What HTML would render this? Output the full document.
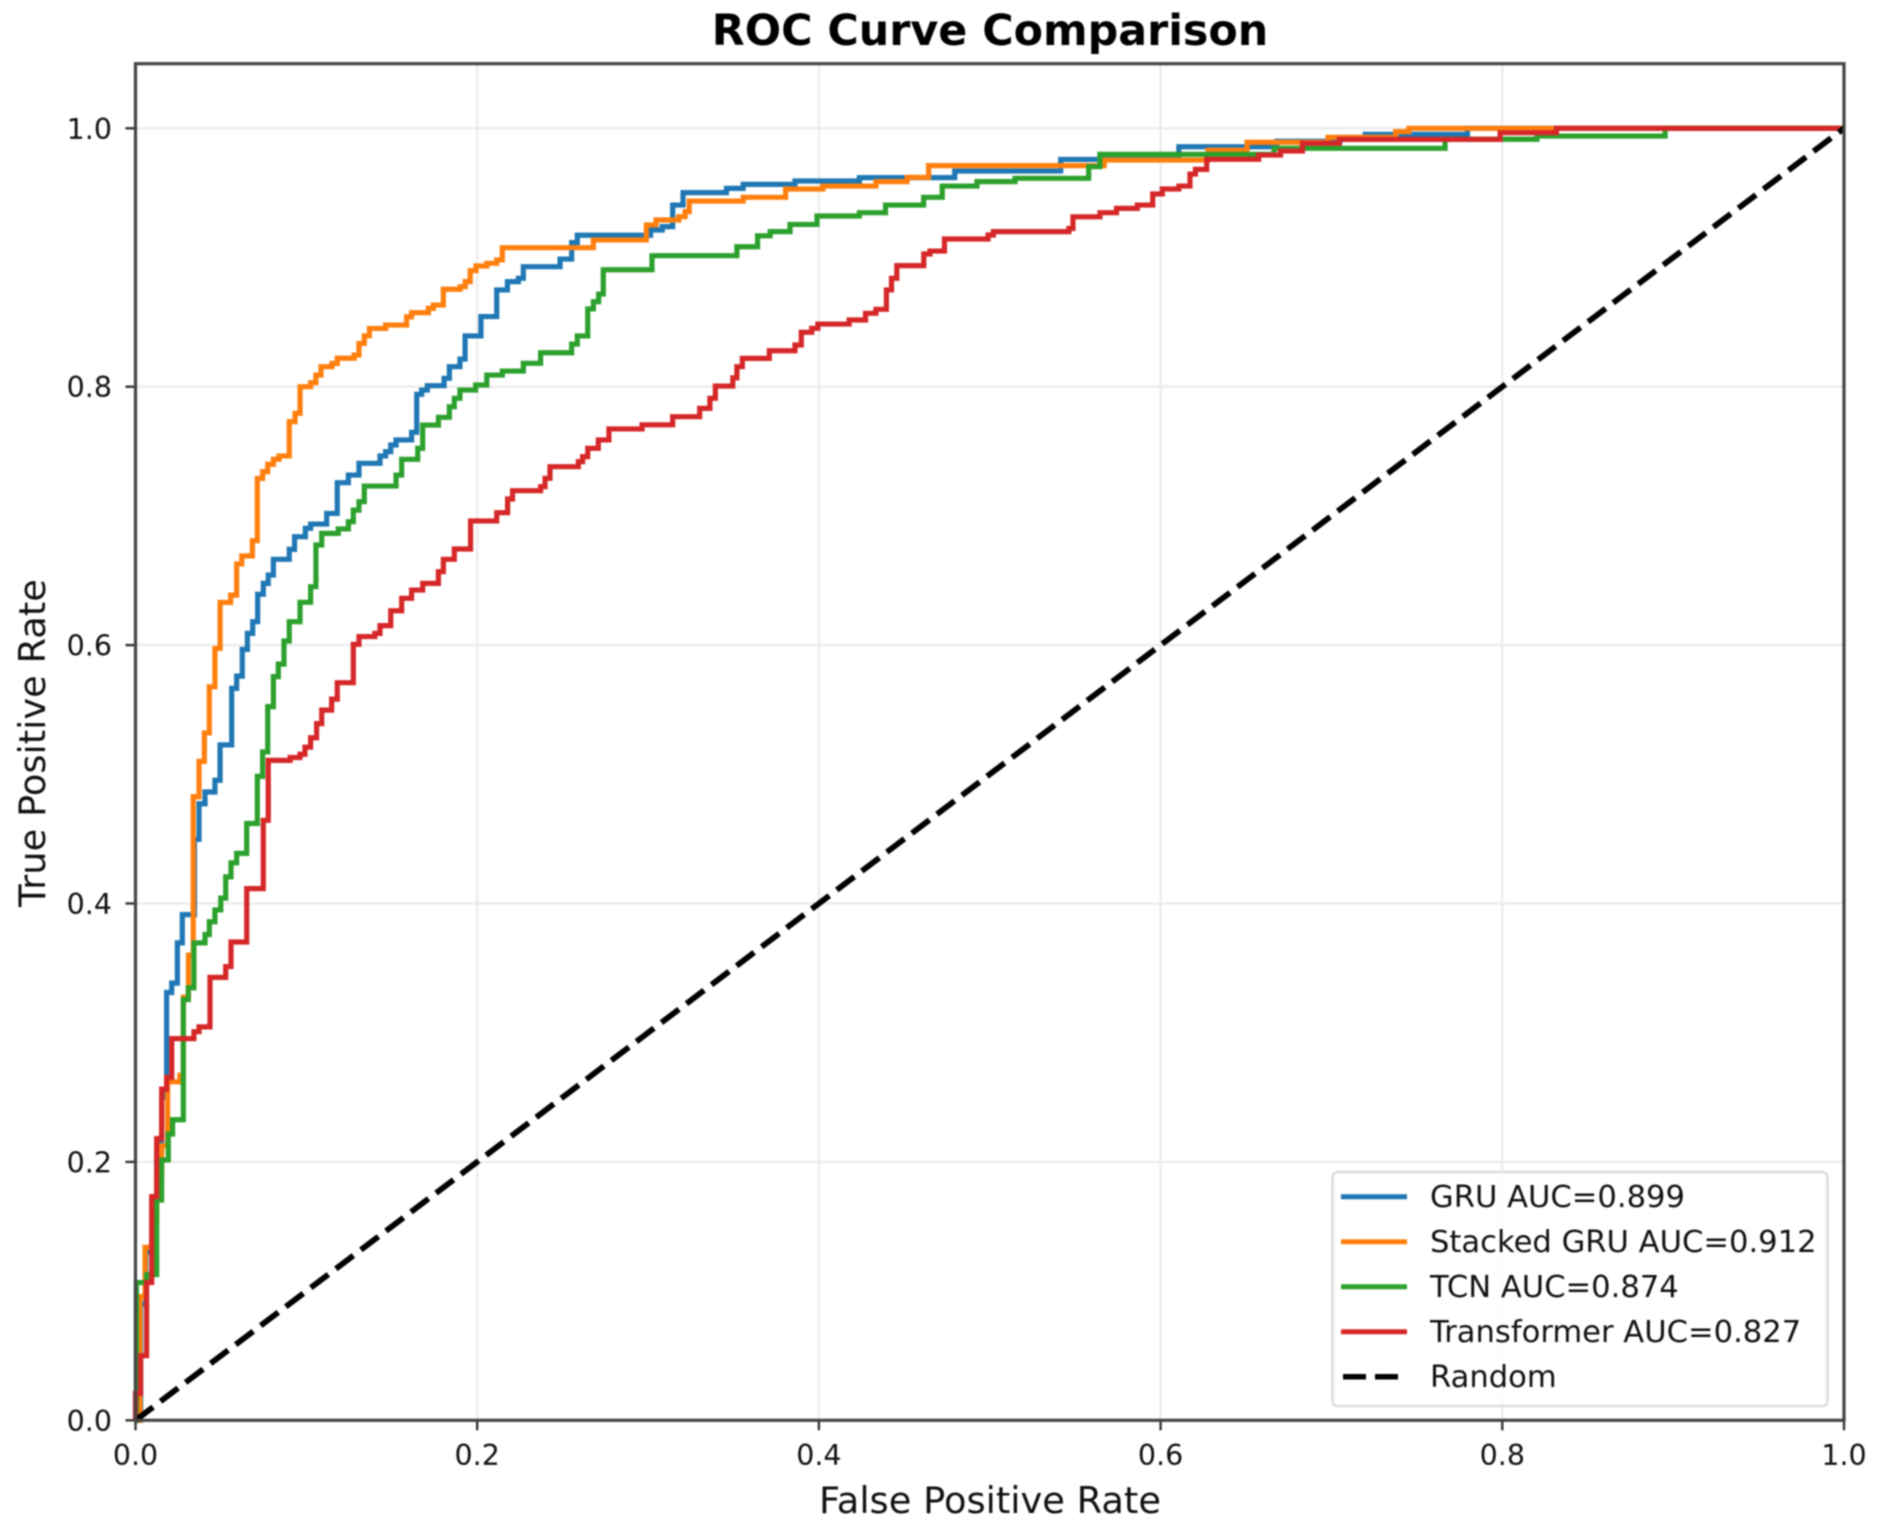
<!DOCTYPE html>
<html lang="en">
<head>
<meta charset="utf-8">
<title>ROC Curve Comparison</title>
<style>
html,body{margin:0;padding:0;background:#fff;width:1881px;height:1531px;overflow:hidden}
svg{display:block;filter:blur(0.85px)}
text{font-family:"DejaVu Sans",sans-serif;fill:#111}
</style>
</head>
<body>
<svg id="chart" xmlns="http://www.w3.org/2000/svg" width="1881" height="1531" viewBox="0 0 1881 1531">
  <rect x="0" y="0" width="1881" height="1531" fill="#fff"/>
  <g id="grid"></g>
  <g id="series"></g>
  <g id="axes"></g>
  <text x="990" y="45" font-size="42.8" font-weight="700" text-anchor="middle" style="fill:#000">ROC Curve Comparison</text>
  <text x="990" y="1513" font-size="36.8" text-anchor="middle">False Positive Rate</text>
  <text x="0" y="0" font-size="36.8" text-anchor="middle" transform="translate(45 743) rotate(-90)">True Positive Rate</text>
  <g>
    <rect x="1332.5" y="1172" width="495" height="234" rx="5" fill="#fff" fill-opacity="0.85" stroke="#dcdcdc" stroke-width="2.5"/>
    <g>
      <line x1="1341" x2="1407" y1="1196.7" y2="1196.7" stroke="#1f77b4" stroke-width="5"/>
      <text x="1430" y="1207" font-size="30.6">GRU AUC=0.899</text>
    </g>
    <g>
      <line x1="1341" x2="1407" y1="1241.7" y2="1241.7" stroke="#ff7f0e" stroke-width="5"/>
      <text x="1430" y="1252" font-size="30.6">Stacked GRU AUC=0.912</text>
    </g>
    <g>
      <line x1="1341" x2="1407" y1="1286.7" y2="1286.7" stroke="#2ca02c" stroke-width="5"/>
      <text x="1430" y="1297" font-size="30.6">TCN AUC=0.874</text>
    </g>
    <g>
      <line x1="1341" x2="1407" y1="1331.7" y2="1331.7" stroke="#d62728" stroke-width="5"/>
      <text x="1430" y="1342" font-size="30.6">Transformer AUC=0.827</text>
    </g>
    <g>
      <line x1="1343" x2="1407" y1="1376.7" y2="1376.7" stroke="#000" stroke-width="5.5" stroke-dasharray="23 9"/>
      <text x="1430" y="1387" font-size="30.6">Random</text>
    </g>
  </g>
</svg>
<script>
const xTickValues = [0, 0.2, 0.4, 0.6, 0.8, 1.0];
const yTickValues = [0, 0.2, 0.4, 0.6, 0.8, 1.0];
const xTickLabels = ["0.0", "0.2", "0.4", "0.6", "0.8", "1.0"];
const yTickLabels = ["0.0", "0.2", "0.4", "0.6", "0.8", "1.0"];
const randomFpr = [0, 1];
const randomTpr = [0, 1];

const gruFpr = [0,.003,.006,.0095,.0124,.0153,.0182,.0212,.0245,.0274,.0345,.0372,.0407,.0465,.0495,.0563,.0592,.0625,.0655,.0686,.0715,.0748,.0777,.0807,.09,.0931,.0994,.1025,.1119,.1181,.1246,.1308,.1431,.1464,.1494,.1525,.1616,.1646,.1675,.1708,.1806,.1837,.1899,.1929,.2022,.2114,.2177,.2241,.227,.2485,.2553,.2586,.3015,.3083,.3144,.3205,.3459,.3557,.386,.4237,.4795,.5415,.6107,.668,.705,.7198,.7796];
const gruTpr = [0,.09,.13,.17,.21,.25,.3311,.3384,.3695,.3914,.4497,.4772,.4863,.4954,.5228,.5665,.576,.5967,.6091,.6181,.6393,.6478,.6542,.6664,.6741,.6839,.6904,.6937,.7019,.7257,.7316,.7407,.7464,.7497,.7549,.7588,.7647,.7941,.7974,.8008,.8065,.8155,.8214,.8393,.8543,.8749,.8813,.8839,.8929,.8988,.9115,.9172,.9213,.9239,.9406,.9502,.9535,.9566,.9592,.9618,.9669,.9759,.9857,.99,.993,.9953,1];

const stackedFpr = [0,.0026,.0056,.0095,.0124,.0153,.0188,.026,.028,.031,.0338,.0372,.0403,.0432,.0465,.0495,.0557,.0592,.0622,.0684,.0713,.0744,.0774,.0807,.084,.09,.0934,.0963,.1025,.1056,.1086,.115,.1181,.128,.1308,.1339,.1369,.1464,.1587,.1616,.1714,.1743,.1802,.19,.193,.1959,.1993,.2056,.2114,.2147,.268,.299,.3047,.318,.3217,.3241,.3557,.3805,.4023,.4334,.4516,.4642,.567,.6277,.6506,.698,.7376,.7453];
const stackedTpr = [0,.0957,.134,.155,.19,.2125,.262,.267,.3275,.36,.4827,.51,.532,.5677,.5974,.633,.6387,.6628,.669,.6808,.729,.7342,.74,.7438,.7464,.7729,.7794,.8,.8031,.809,.8155,.818,.822,.8245,.8335,.8394,.8451,.8477,.8541,.8573,.8606,.8632,.8754,.8774,.8813,.8898,.8934,.8955,.8981,.9076,.9136,.9252,.929,.9316,.9355,.9437,.9466,.953,.9553,.9587,.962,.9711,.9754,.983,.9892,.993,.9974,1];

const tcnFpr = [0,.0005,.0065,.0124,.0153,.0192,.0217,.028,.0309,.0342,.0407,.0432,.0465,.0499,.0528,.0559,.0592,.0651,.0713,.0744,.0774,.0807,.0836,.0869,.09,.0963,.1025,.1056,.109,.1187,.1246,.1275,.1308,.1339,.1525,.1558,.1652,.1681,.1773,.1837,.1866,.1899,.1991,.2056,.2147,.227,.2371,.2553,.2586,.2647,.268,.2711,.2738,.3023,.352,.3641,.3715,.3831,.3989,.4237,.439,.4613,.4722,.4925,.5148,.5579,.5645,.6664,.7665,.8203,.8953];
const tcnTpr = [0,.1066,.1128,.1705,.2015,.2216,.2326,.3257,.3348,.3695,.376,.3859,.395,.4042,.4206,.4315,.4388,.4619,.4984,.5173,.5524,.5756,.5853,.6032,.6181,.6331,.6452,.6775,.6865,.6899,.6955,.7045,.711,.7231,.7316,.7438,.7523,.7703,.7763,.7845,.791,.7974,.8013,.809,.8121,.8181,.8263,.833,.8393,.8602,.8658,.8717,.8905,.9014,.9083,.9168,.92,.9256,.9321,.9347,.9406,.9466,.9553,.9587,.9613,.9703,.9798,.9845,.9915,.994,1];

const transformerFpr = [0,.003,.0065,.0095,.0124,.0153,.0182,.0212,.0342,.0372,.0436,.0528,.0559,.0651,.0748,.0777,.0905,.0963,.0992,.1025,.106,.109,.1148,.1181,.1275,.1308,.1401,.1431,.1494,.1558,.1616,.1681,.1773,.1802,.1866,.1961,.2114,.2178,.2207,.2371,.2397,.2426,.2592,.2617,.2647,.2709,.2771,.2965,.3144,.3302,.3362,.3394,.3496,.352,.3552,.371,.386,.3897,.3958,.3994,.4177,.4273,.4334,.4395,.4425,.4456,.4614,.465,.4735,.499,.5021,.5463,.5487,.5645,.5742,.5864,.5954,.601,.6107,.6172,.6204,.627,.6574,.6702,.683,.7046,.7987,.8317];
const transformerTpr = [.0208,.05,.1066,.1731,.218,.2563,.2654,.2954,.3008,.3045,.3428,.3512,.3702,.4115,.4644,.5108,.513,.5155,.521,.5283,.5392,.5497,.5582,.5709,.6006,.6066,.6091,.6151,.6266,.6362,.6426,.6478,.6568,.6664,.6744,.6961,.7025,.7131,.7195,.7226,.7291,.7381,.742,.7459,.7523,.7588,.7673,.7705,.7768,.7832,.791,.8005,.8069,.8155,.8219,.8278,.8323,.8421,.8452,.8485,.8516,.8568,.8599,.8749,.8839,.8937,.9027,.905,.9143,.9174,.92,.9225,.9315,.9347,.938,.9406,.9492,.953,.9553,.9646,.9682,.976,.9793,.9824,.9884,.9914,.9966,1];

const plotLeft = 135.5, plotRight = 1844, plotBottom = 1420.3, plotUnitY = 1292, axisTopValue = 1.05;
const svgNS = 'http://www.w3.org/2000/svg';
function xScale(v){ return plotLeft + v * (plotRight - plotLeft); }
function yScale(v){ return plotBottom - v * plotUnitY; }
function make(tag, attrs, parent){
  const el = document.createElementNS(svgNS, tag);
  for (const k in attrs) el.setAttribute(k, attrs[k]);
  parent.appendChild(el);
  return el;
}
function stepPath(fpr, tpr){
  let d = 'M' + xScale(0).toFixed(2) + ' ' + yScale(0).toFixed(2);
  for (let i = 0; i < fpr.length; i++){
    d += 'H' + xScale(fpr[i]).toFixed(2) + 'V' + yScale(tpr[i]).toFixed(2);
  }
  d += 'H' + xScale(1).toFixed(2) + 'V' + yScale(1).toFixed(2);
  return d;
}
const gridGroup = document.getElementById('grid');
const axesGroup = document.getElementById('axes');
const seriesGroup = document.getElementById('series');
const plotTop = yScale(axisTopValue);

xTickValues.forEach(function(v, i){
  const g = make('line', {x1:xScale(v), x2:xScale(v), y1:plotTop, y2:plotBottom, stroke:'#ececec', 'stroke-width':2.4}, gridGroup);
  
  
  const t = make('line', {x1:xScale(v), x2:xScale(v), y1:plotBottom, y2:plotBottom + 10, stroke:'#333', 'stroke-width':2.4}, axesGroup);
  
  
  const l = make('text', {x:xScale(v), y:1465, 'font-size':28.5, 'text-anchor':'middle'}, axesGroup);
  
  
  l.textContent = xTickLabels[i];
});
yTickValues.forEach(function(v, i){
  const g = make('line', {x1:plotLeft, x2:plotRight, y1:yScale(v), y2:yScale(v), stroke:'#ececec', 'stroke-width':2.4}, gridGroup);
  
  
  const t = make('line', {x1:plotLeft - 10, x2:plotLeft, y1:yScale(v), y2:yScale(v), stroke:'#333', 'stroke-width':2.4}, axesGroup);
  
  
  const l = make('text', {x:112, y:yScale(v) + 10.5, 'font-size':28.5, 'text-anchor':'end'}, axesGroup);
  
  
  l.textContent = yTickLabels[i];
});

const gruLine = make('path', {d:stepPath(gruFpr, gruTpr), fill:'none', stroke:'#1f77b4', 'stroke-width':5.2, 'stroke-linejoin':'miter'}, seriesGroup);


const stackedLine = make('path', {d:stepPath(stackedFpr, stackedTpr), fill:'none', stroke:'#ff7f0e', 'stroke-width':5.2, 'stroke-linejoin':'miter'}, seriesGroup);


const tcnLine = make('path', {d:stepPath(tcnFpr, tcnTpr), fill:'none', stroke:'#2ca02c', 'stroke-width':5.2, 'stroke-linejoin':'miter'}, seriesGroup);


const transformerLine = make('path', {d:stepPath(transformerFpr, transformerTpr), fill:'none', stroke:'#d62728', 'stroke-width':5.2, 'stroke-linejoin':'miter'}, seriesGroup);


const randomLine = make('line', {x1:xScale(randomFpr[0]), y1:yScale(randomTpr[0]), x2:xScale(randomFpr[1]), y2:yScale(randomTpr[1]), stroke:'#000', 'stroke-width':5.8, 'stroke-dasharray':'22 9.4'}, seriesGroup);



const frame = make('rect', {x:plotLeft, y:plotTop, width:plotRight - plotLeft, height:plotBottom - plotTop, fill:'none', stroke:'#444', 'stroke-width':3.2}, axesGroup);


</script>
</body>
</html>
